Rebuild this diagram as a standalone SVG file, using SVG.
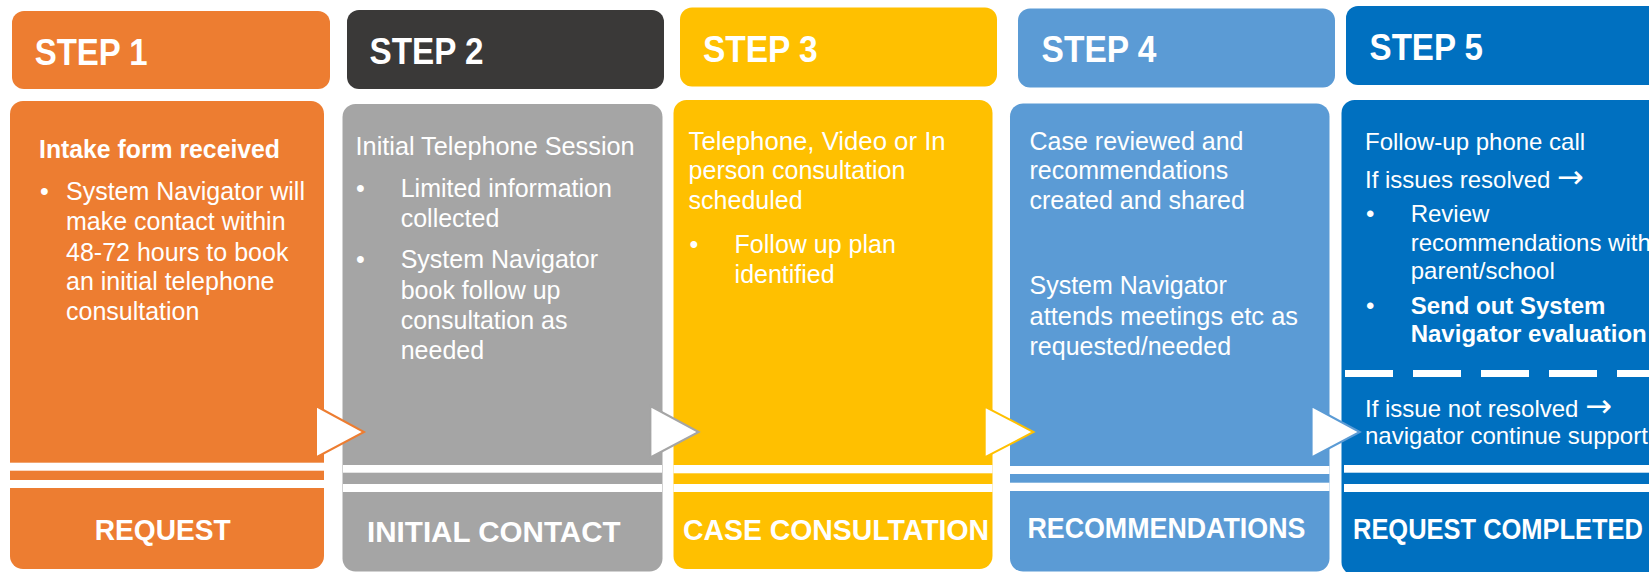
<svg xmlns="http://www.w3.org/2000/svg" width="1649" height="572" viewBox="0 0 1649 572">
<style>
text{font-family:"Liberation Sans",Arial,sans-serif;fill:#fff}
.hd{font-size:37px;font-weight:bold}
.bd{font-size:25px}
.b5{font-size:24px}
.bold{font-weight:bold}
.lb{font-size:29px;font-weight:bold;text-anchor:middle}
.ar{font-family:"DejaVu Sans",sans-serif;font-size:32px}
.stripe{fill:#fff}
.arrow{fill:#fff;stroke-width:2;stroke-linejoin:miter}
</style>
<rect width="1649" height="572" fill="#fff"/>
<g id="step1">
<rect x="12" y="11" width="318" height="78" rx="12" fill="#ED7D31"/>
<text class="hd" x="34.7" y="65" textLength="113" lengthAdjust="spacingAndGlyphs">STEP 1</text>
<rect x="10" y="101" width="314" height="468" rx="13" fill="#ED7D31"/>
<text class="bd bold" x="39" y="157.7" textLength="241" lengthAdjust="spacingAndGlyphs">Intake form received</text>
<text class="bd" x="40" y="200">•</text>
<text class="bd" x="66" y="200">System Navigator will</text>
<text class="bd" x="66" y="230">make contact within</text>
<text class="bd" x="66" y="260.5">48-72 hours to book</text>
<text class="bd" x="66" y="290">an initial telephone</text>
<text class="bd" x="66" y="320">consultation</text>
<rect class="stripe" x="10" y="462.7" width="314" height="8"/>
<rect class="stripe" x="10" y="480" width="314" height="8"/>
<text class="lb" x="162.7" y="540" textLength="136" lengthAdjust="spacingAndGlyphs">REQUEST</text>
</g>
<g id="step2">
<rect x="347" y="10" width="317" height="79" rx="12" fill="#3A3938"/>
<text class="hd" x="369.5" y="64.3" textLength="114" lengthAdjust="spacingAndGlyphs">STEP 2</text>
<rect x="342.5" y="104" width="320" height="467.5" rx="13" fill="#A5A5A5"/>
<text class="bd" x="355.6" y="155" textLength="279" lengthAdjust="spacingAndGlyphs">Initial Telephone Session</text>
<text class="bd" x="356" y="196.7">•</text>
<text class="bd" x="400.7" y="196.7">Limited information</text>
<text class="bd" x="400.7" y="226.7">collected</text>
<text class="bd" x="356" y="268.3">•</text>
<text class="bd" x="400.7" y="268.3">System Navigator</text>
<text class="bd" x="400.7" y="299">book follow up</text>
<text class="bd" x="400.7" y="329">consultation as</text>
<text class="bd" x="400.7" y="359">needed</text>
<rect class="stripe" x="343" y="465" width="319" height="7.7"/>
<rect class="stripe" x="343" y="484" width="319" height="8"/>
<text class="lb" x="493.8" y="541.7" textLength="253.5" lengthAdjust="spacingAndGlyphs">INITIAL CONTACT</text>
</g>
<g id="step3">
<rect x="680" y="7.5" width="317" height="79" rx="12" fill="#FFC000"/>
<text class="hd" x="702.9" y="61.7" textLength="114.8" lengthAdjust="spacingAndGlyphs">STEP 3</text>
<rect x="673.5" y="100" width="319" height="469" rx="13" fill="#FFC000"/>
<text class="bd" x="688.6" y="150" textLength="257" lengthAdjust="spacingAndGlyphs">Telephone, Video or In</text>
<text class="bd" x="688.6" y="179.3">person consultation</text>
<text class="bd" x="688.6" y="209.3">scheduled</text>
<text class="bd" x="689.5" y="253.3">•</text>
<text class="bd" x="734.6" y="253.3">Follow up plan</text>
<text class="bd" x="734.6" y="282.7">identified</text>
<rect class="stripe" x="673.5" y="465" width="319" height="8.3"/>
<rect class="stripe" x="673.5" y="484" width="319" height="8"/>
<text class="lb" x="836" y="540" textLength="306" lengthAdjust="spacingAndGlyphs">CASE CONSULTATION</text>
</g>
<g id="step4">
<rect x="1018" y="8.5" width="317" height="79" rx="12" fill="#5B9BD5"/>
<text class="hd" x="1041.6" y="61.7" textLength="114.8" lengthAdjust="spacingAndGlyphs">STEP 4</text>
<rect x="1010" y="103.5" width="319.5" height="468" rx="13" fill="#5B9BD5"/>
<text class="bd" x="1029.5" y="150">Case reviewed and</text>
<text class="bd" x="1029.5" y="179.3">recommendations</text>
<text class="bd" x="1029.5" y="209.3">created and shared</text>
<text class="bd" x="1029.5" y="294">System Navigator</text>
<text class="bd" x="1029.5" y="325" textLength="268.5" lengthAdjust="spacingAndGlyphs">attends meetings etc as</text>
<text class="bd" x="1029.5" y="355">requested/needed</text>
<rect class="stripe" x="1010" y="466" width="319.5" height="8"/>
<rect class="stripe" x="1010" y="482.7" width="319.5" height="8.3"/>
<text class="lb" x="1166.4" y="538.3" textLength="278" lengthAdjust="spacingAndGlyphs">RECOMMENDATIONS</text>
</g>
<g id="step5">
<rect x="1346" y="6" width="320" height="79" rx="12" fill="#0070C0"/>
<text class="hd" x="1369.6" y="60" textLength="113.4" lengthAdjust="spacingAndGlyphs">STEP 5</text>
<rect x="1341.5" y="100" width="330" height="475" rx="13" fill="#0070C0"/>
<text class="b5" x="1365" y="150">Follow-up phone call</text>
<text class="b5" x="1365" y="188.3">If issues resolved <tspan class="ar">→</tspan></text>
<text class="b5" x="1366" y="221.7">•</text>
<text class="b5" x="1410.7" y="221.7">Review</text>
<text class="b5" x="1410.7" y="250.7">recommendations with</text>
<text class="b5" x="1410.7" y="279.3">parent/school</text>
<text class="b5" x="1366" y="314">•</text>
<text class="b5 bold" x="1410.7" y="314">Send out System</text>
<text class="b5 bold" x="1410.7" y="341.7">Navigator evaluation</text>
<line x1="1345" y1="373.5" x2="1649" y2="373.5" stroke="#fff" stroke-width="7" stroke-dasharray="48 20"/>
<text class="b5" x="1365" y="416.7">If issue not resolved <tspan class="ar">→</tspan></text>
<text class="b5" x="1365" y="444">navigator continue support</text>
<rect class="stripe" x="1344" y="465" width="305" height="7.7"/>
<rect class="stripe" x="1344" y="484" width="305" height="8"/>
<text class="lb" x="1498" y="539.3" textLength="290" lengthAdjust="spacingAndGlyphs">REQUEST COMPLETED</text>
</g>
<g id="connectors">
<polygon class="arrow" points="316,406 364,432 316,457.5" stroke="#ED7D31"/>
<polygon class="arrow" points="650.4,406 698.7,432 650.4,457.5" stroke="#A5A5A5"/>
<polygon class="arrow" points="984.7,406.7 1033.5,432 984.7,457.3" stroke="#FFC000"/>
<polygon class="arrow" points="1311.6,406 1359.8,432 1311.6,457.5" stroke="#5B9BD5"/>
</g>
</svg>
